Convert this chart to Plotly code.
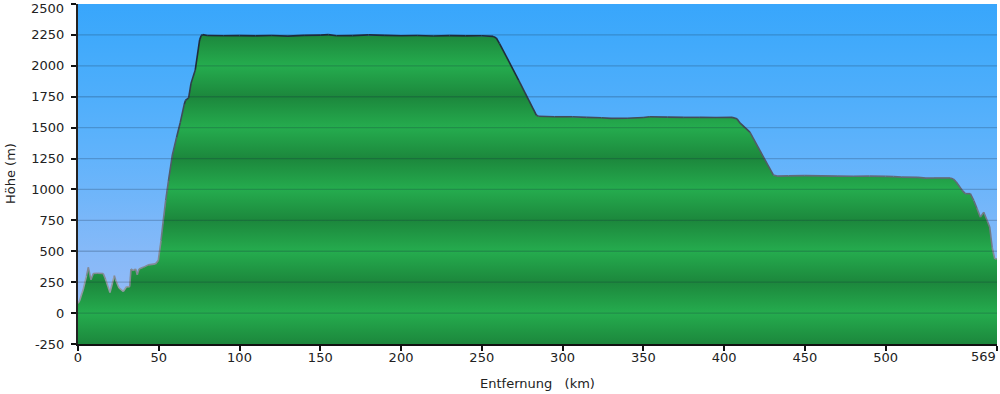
import plotly.graph_objects as go

# ---- data ----
km = [0, 1, 3.3, 5.3, 6.4, 8, 9.5, 12, 15.6, 17, 19.8, 22.5, 23.3, 25.4, 28, 30, 32, 32.8, 34.2,
      35.7, 36.7, 37.8, 40.4, 43.5, 48, 49.7, 51.4, 52.8, 54.3, 56, 58.4, 61, 63.3, 65.8, 66.5,
      68.5, 70, 72.6, 75.3, 76.3, 77.2, 80, 90, 100, 110, 120, 130, 140, 150, 155, 160, 170,
      180, 190, 200, 210, 220, 230, 240, 250, 257, 259, 261, 272.8, 283.8, 285, 295, 306, 315,
      324, 330, 340, 350, 354, 365, 375, 385, 395, 405, 408, 410, 416, 430.5, 432.8, 440, 450,
      460, 470, 480, 490, 500, 505, 510, 520, 525, 530, 540, 542, 543.8, 547.4, 549.4, 552.5,
      554.6, 556.5, 558.7, 560.8, 562.9, 564.5, 566, 567.6, 569]
elev = [80, 100, 195, 303, 370, 270, 320, 322, 320, 275, 167, 303, 268, 203, 175, 213, 213, 357,
        343, 357, 310, 357, 370, 390, 398, 425, 587, 750, 912, 1070, 1278, 1420, 1540, 1690, 1720,
        1740, 1860, 1967, 2210, 2245, 2252, 2245, 2243, 2244, 2242, 2245, 2240, 2246, 2248, 2252,
        2243, 2244, 2250, 2246, 2243, 2245, 2241, 2244, 2242, 2243, 2238, 2225, 2180, 1885, 1602,
        1592, 1588, 1588, 1583, 1580, 1575, 1576, 1582, 1588, 1585, 1583, 1583, 1582, 1583, 1572,
        1536, 1463, 1117, 1108, 1110, 1112, 1110, 1108, 1107, 1108, 1106, 1104, 1100, 1098, 1092,
        1093, 1093, 1085, 1060, 993, 966, 966, 911, 850, 776, 816, 749, 695, 532, 438, 440]

x_ticks = [0, 50, 100, 150, 200, 250, 300, 350, 400, 450, 500, 569]
y_ticks = [-250, 0, 250, 500, 750, 1000, 1250, 1500, 1750, 2000, 2250, 2500]
x_range = [0, 569]
y_range = [-250, 2500]
x_title = "Entfernung\u00a0\u00a0\u00a0(km)"
y_title = "Höhe (m)"

# ---- styling ----
Y0, Y1 = y_range
X0, X1 = x_range
span = Y1 - Y0

def frac(v):
    return (v - Y0) / span

sky_stops = [(-250, "#98BEF8"), (0, "#94BCF8"), (250, "#8EBAF8"), (500, "#85B9F8"),
             (750, "#7AB7F9"), (1000, "#6DB5FA"), (1250, "#62B3FB"), (1500, "#58B1FB"),
             (1750, "#4FAEFB"), (2000, "#47ACFB"), (2250, "#3FA9FB"), (2500, "#38A6FC")]
sky_scale = [[frac(v), c] for v, c in sky_stops]

LIGHT, DARK = "#25AC4E", "#1C873C"
grass_scale = []
for v in y_ticks:
    grass_scale.append([frac(v), LIGHT if (v % 500 == 0) else DARK])

fig = go.Figure()

# base line for the sky fill
fig.add_trace(go.Scatter(x=x_range, y=[Y0, Y0], mode="lines", line=dict(width=0),
                         hoverinfo="skip", showlegend=False))
fig.add_trace(go.Scatter(x=x_range, y=[Y1, Y1], mode="lines", line=dict(width=0),
                         fill="tonexty",
                         fillgradient=dict(type="vertical", colorscale=sky_scale,
                                           start=Y0, stop=Y1),
                         hoverinfo="skip", showlegend=False))
# base line for the terrain fill
fig.add_trace(go.Scatter(x=x_range, y=[Y0, Y0], mode="lines", line=dict(width=0),
                         hoverinfo="skip", showlegend=False))
fig.add_trace(go.Scatter(x=km, y=elev, mode="lines", line=dict(width=0),
                         fill="tonexty",
                         fillgradient=dict(type="vertical", colorscale=grass_scale,
                                           start=Y0, stop=Y1),
                         hoverinfo="skip", showlegend=False))

# grid lines above the fills
for v in y_ticks[1:-1]:
    fig.add_shape(type="line", xref="x", yref="y", x0=X0, x1=X1, y0=v, y1=v,
                  line=dict(color="rgba(20,35,60,0.22)", width=1.3), layer="above")

# outline coloured by height (light grey low, dark navy high)
low_c = (156, 162, 172)
high_c = (24, 36, 52)
nb = 8
bins = [dict(x=[], y=[]) for _ in range(nb)]
for i in range(len(km) - 1):
    m = (elev[i] + elev[i + 1]) / 2
    t = max(0.0, min(1.0, m / 2250))
    b = min(nb - 1, int(t * nb))
    bins[b]["x"] += [km[i], km[i + 1], None]
    bins[b]["y"] += [elev[i], elev[i + 1], None]
for b in range(nb):
    if not bins[b]["x"]:
        continue
    t = (b + 0.5) / nb
    c = tuple(int(low_c[k] + (high_c[k] - low_c[k]) * t) for k in range(3))
    fig.add_trace(go.Scatter(x=bins[b]["x"], y=bins[b]["y"], mode="lines",
                             line=dict(color="rgb(%d,%d,%d)" % c, width=1.6),
                             hoverinfo="skip", showlegend=False))

font = dict(family="DejaVu Sans, Verdana, sans-serif", size=13, color="#222222")

# edge tick labels are placed as annotations so they stay inside the page
x_text = [str(v) if v != X1 else "" for v in x_ticks]
y_text = [str(v) if v != Y1 else "" for v in y_ticks]

fig.update_layout(
    width=1000, height=394,
    margin=dict(l=78, r=3, t=4, b=50),
    paper_bgcolor="white", plot_bgcolor="white",
    font=font,
    showlegend=False,
    annotations=[
        dict(text=x_title, xref="paper", yref="paper", x=0.5, y=0, yshift=-39,
             xanchor="center", yanchor="middle", showarrow=False, font=font),
        dict(text=y_title, xref="paper", yref="paper", x=0, y=0.5, xshift=-68,
             xanchor="center", yanchor="middle", textangle=-90, showarrow=False, font=font),
        dict(text=str(X1), xref="x", yref="y", x=X1, y=Y0, yshift=-12, xshift=1,
             xanchor="right", yanchor="middle", showarrow=False, font=font),
        dict(text=str(Y1), xref="paper", yref="y", x=0, y=Y1, xshift=-12, yshift=-4,
             xanchor="right", yanchor="middle", showarrow=False, font=font),
    ],
)
fig.update_xaxes(range=x_range, tickvals=x_ticks, ticktext=x_text,
                 showgrid=False, zeroline=False, showline=True, linecolor="#111111",
                 linewidth=2, ticks="outside", ticklen=5, tickwidth=2, tickcolor="#111111",
                 ticklabelstandoff=-5,
                 automargin=False, ticklabeloverflow="allow", layer="above traces")
fig.update_yaxes(range=y_range, tickvals=y_ticks, ticktext=y_text,
                 showgrid=False, zeroline=False, showline=True, linecolor="#222222",
                 linewidth=2, ticks="outside", ticklen=5, tickwidth=2, tickcolor="#111111",
                 ticklabelstandoff=4,
                 automargin=False, ticklabeloverflow="allow", layer="above traces")

fig.write_html("out.html", config={"displayModeBar": False},
               post_script="document.body.style.margin='0';")
